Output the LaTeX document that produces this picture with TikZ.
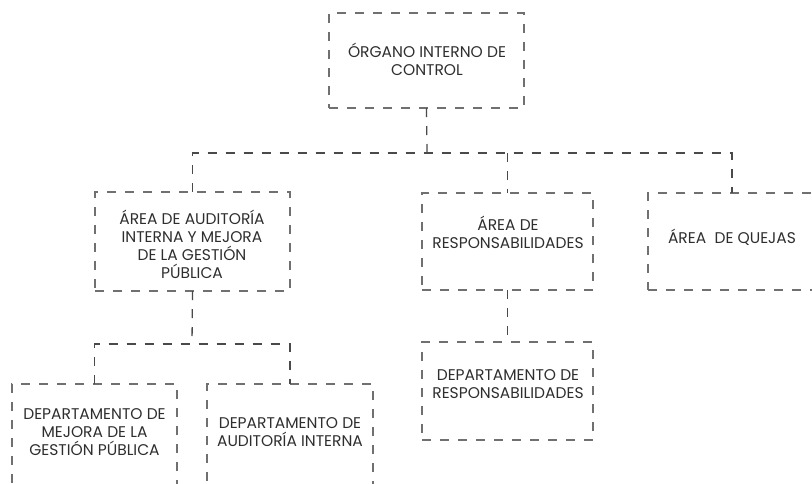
\documentclass[tikz,border=0pt]{standalone}
\usepackage{fontspec}
\setmainfont{Poppins}
\usetikzlibrary{calc}
\definecolor{conn}{HTML}{4A4A4A}
\definecolor{boxc}{HTML}{707070}
\definecolor{txtc}{HTML}{2E2E2E}
\begin{document}
\begin{tikzpicture}[x=1pt,y=-1pt,
  box/.style={draw=boxc, line width=1.3pt, dash pattern=on 9pt off 9pt, inner sep=0pt, outer sep=0pt, rectangle},
  link/.style={draw=conn, line width=1.3pt, dash pattern=on 9pt off 9pt},
  txt/.style={text=txtc, align=center, inner sep=0pt, font=\fontsize{15.5}{18}\selectfont}]
\useasboundingbox (0,0) rectangle (812,483);
\clip (0,0) rectangle (812,483);
% boxes
\node[box, minimum width=195pt, minimum height=95pt] (top) at (426.5,60.5) {};
\node[box, minimum width=195pt, minimum height=99pt] (A) at (192.5,241.5) {};
\node[box, minimum width=171pt, minimum height=97pt] (B) at (507.5,241.5) {};
\node[box, minimum width=168pt, minimum height=97pt] (C) at (732,241.5) {};
\node[box, minimum width=165pt, minimum height=102pt] (D) at (94.5,435) {};
\node[box, minimum width=166pt, minimum height=102pt] (E) at (290,435) {};
\node[box, minimum width=171pt, minimum height=98pt] (F) at (507.5,391) {};
% texts
\node[txt] (topt) at (427,59.5) {ÓRGANO INTERNO DE\\CONTROL};
\node[txt] (At) at (192,244.5) {ÁREA DE AUDITORÍA\\INTERNA Y MEJORA\\DE LA GESTIÓN\\PÚBLICA};
\node[txt] (Bt) at (508,232.5) {ÁREA DE\\RESPONSABILIDADES};
\node[txt] (Ct) at (732,237) {ÁREA~~DE QUEJAS};
\node[txt] (Dt) at (94.5,432) {DEPARTAMENTO DE\\MEJORA DE LA\\GESTIÓN PÚBLICA};
\node[txt] (Et) at (290,432) {DEPARTAMENTO DE\\AUDITORÍA INTERNA};
\node[txt] (Ft) at (508,384) {DEPARTAMENTO DE\\RESPONSABILIDADES};
% connectors
\coordinate (b1) at (427,153);
\coordinate (b2) at (192,344);
\draw[link] (top.south) -- (b1);
\draw[link] (A.north) -- (A.north |- b1) -- (C.north |- b1) -- (C.north);
\draw[link] (B.north |- b1) -- (B.north);
\draw[link] (A.south) -- (b2);
\draw[link] (D.north) -- (D.north |- b2) -- (E.north |- b2) -- (E.north);
\draw[link] (B.south) -- (F.north);
\end{tikzpicture}
\end{document}
